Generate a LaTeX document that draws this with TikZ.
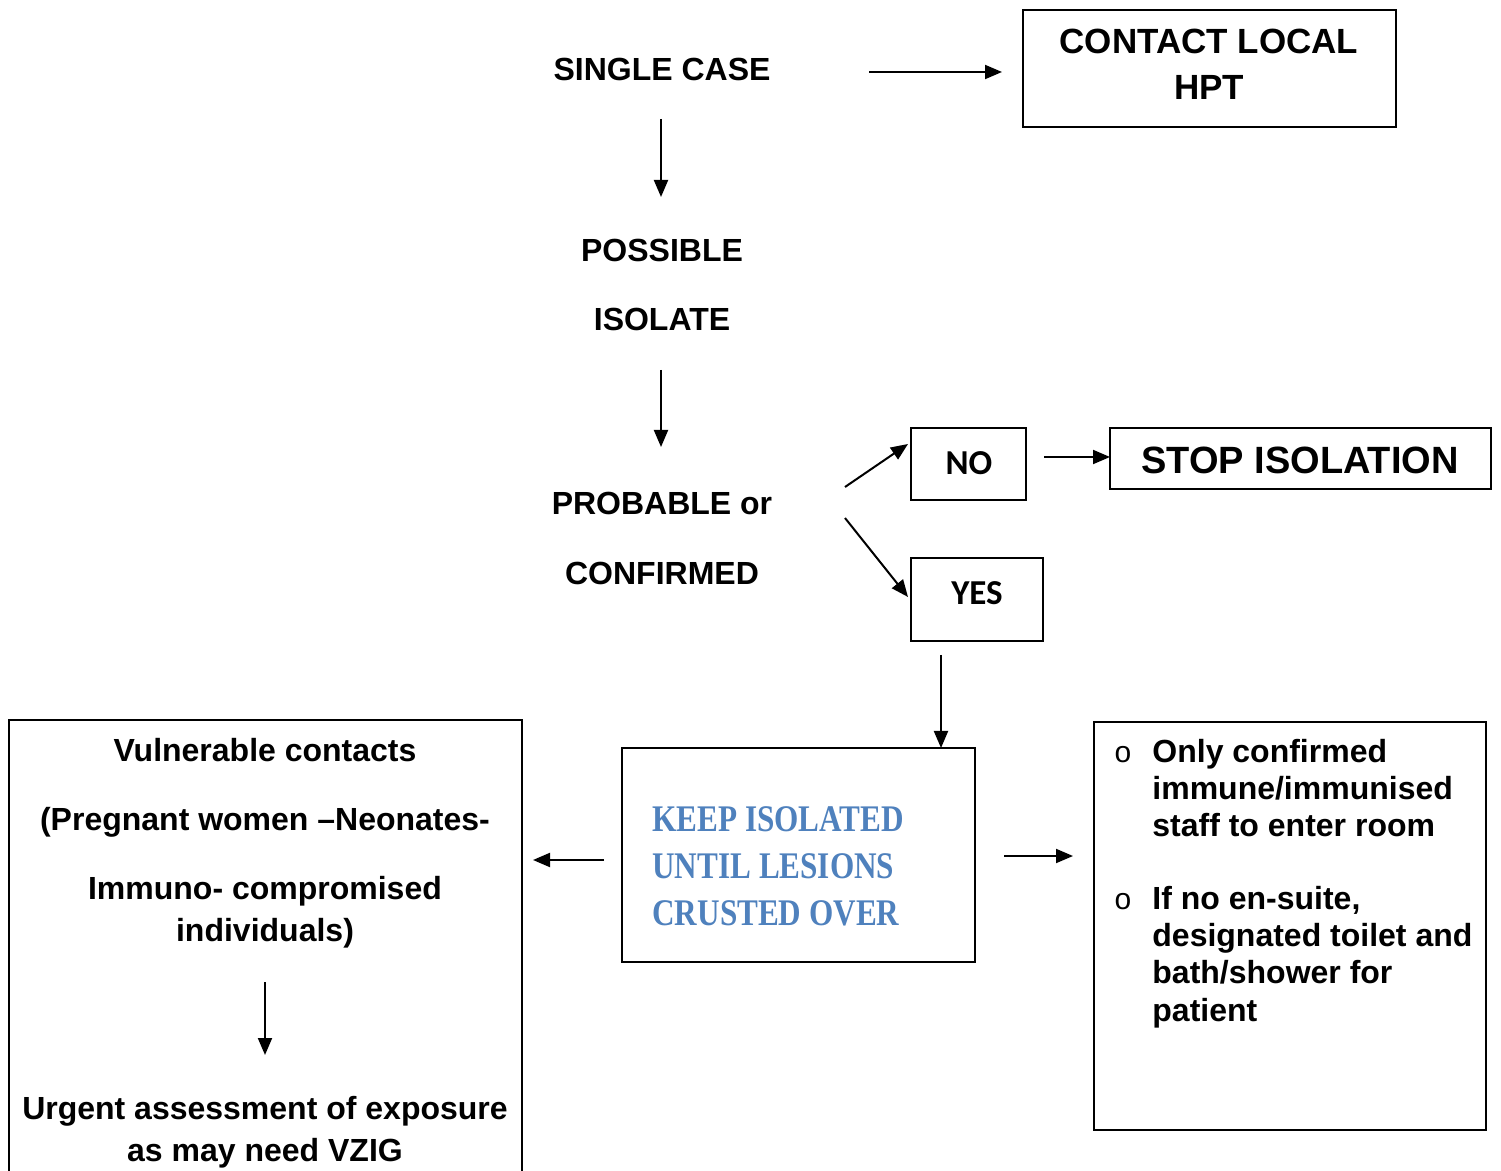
\documentclass[tikz,border=0pt]{standalone}
\usepackage{fontspec}
\setmainfont{Liberation Sans}
\newfontfamily\calib{Carlito}
\newfontfamily\cambr[FakeStretch=0.83]{Liberation Serif}
\usetikzlibrary{arrows.meta}
\definecolor{kblue}{HTML}{4F81BD}
\begin{document}
\begin{tikzpicture}[x=0.5pt,y=-0.5pt,
  lbl/.style={inner sep=0pt, font=\bfseries\fontsize{16}{19}\selectfont, text height=11.5pt, text depth=0pt},
  lblb/.style={inner sep=0pt, font=\bfseries\fontsize{17.5}{20}\selectfont, text height=12.5pt, text depth=0pt},
  lblc/.style={inner sep=0pt, font=\calib\bfseries\fontsize{17.5}{20}\selectfont, text height=11.3pt, text depth=0pt},
  lbls/.style={inner sep=0pt, font=\bfseries\fontsize{19}{21}\selectfont, text height=13.6pt, text depth=0pt},
  keep/.style={inner sep=0pt, font=\cambr\bfseries\fontsize{18.8}{23.5}\selectfont, text=kblue, align=left},
  bul/.style={inner sep=0pt, font=\fontsize{15}{17}\selectfont, text height=7.8pt, text depth=0pt},
  box/.style={draw, line width=1pt, inner sep=0pt},
  arr/.style={line width=1pt, -{Triangle[length=8.5pt,width=7pt]}}]
\useasboundingbox (0,0) rectangle (1501,1171);

% left column
\node[lbl] (sc) at (662,69) {SINGLE CASE};
\node[lbl] (pos) at (662,250) {POSSIBLE};
\node[lbl] (iso) at (662,319) {ISOLATE};
\node[lbl] (prob) at (662,503) {PROBABLE or};
\node[lbl] (conf) at (662,573) {CONFIRMED};

% contact box
\node[box, minimum width=186.5pt, minimum height=58.5pt] (hptbox) at (1209.5,68.5) {};
\node[lblb] (hpt1) at (1209,41) {CONTACT LOCAL};
\node[lblb] (hpt2) at (1209,87) {HPT};

% NO / YES / STOP
\node[box, minimum width=57.5pt, minimum height=36pt] (nobox) at (968.5,464) {};
\node[lblc] (no) at (969,463) {NO};
\node[box, minimum width=190.5pt, minimum height=30.5pt] (stopbox) at (1300.5,458.5) {};
\node[lbls] (stop) at (1300,460) {STOP ISOLATION};
\node[box, minimum width=66pt, minimum height=41.5pt] (yesbox) at (977,599.5) {};
\node[lblc] (yes) at (977,593) {YES};

% keep box
\node[box, minimum width=176.5pt, minimum height=107pt] (keepbox) at (798.5,855) {};
\node[keep, anchor=west] (keep) at (652,866) {KEEP ISOLATED\\UNTIL LESIONS\\CRUSTED OVER};

% left box (bottom edge beyond the page)
\coordinate (lb1) at (9,1180);
\coordinate (lb2) at (9,720);
\coordinate (lb3) at (522,720);
\coordinate (lb4) at (522,1180);
\draw[line width=1pt] (lb1) -- (lb2) -- (lb3) -- (lb4);
\node[lbl] (v1) at (265,750) {Vulnerable contacts};
\node[lbl] (v2) at (265,819) {(Pregnant women –Neonates-};
\node[lbl] (v3) at (265,888) {Immuno- compromised};
\node[lbl] (v4) at (265,930) {individuals)};
\node[lbl] (u1) at (265,1108) {Urgent assessment of exposure};
\node[lbl] (u2) at (265,1150) {as may need VZIG};

% right box
\node[box, minimum width=196pt, minimum height=204pt] (rbox) at (1290,926) {};
\node[bul] (b1) at (1123,755) {o};
\node[bul] (b2) at (1123,902) {o};
\node[lbl, anchor=west] (r1) at (1152,751) {Only confirmed};
\node[lbl, anchor=west] (r2) at (1152,788) {immune/immunised};
\node[lbl, anchor=west] (r3) at (1152,825) {staff to enter room};
\node[lbl, anchor=west] (r4) at (1152,898) {If no en-suite,};
\node[lbl, anchor=west] (r5) at (1152,935) {designated toilet and};
\node[lbl, anchor=west] (r6) at (1152,972) {bath/shower for};
\node[lbl, anchor=west] (r7) at (1152,1010) {patient};

% connector end points
\coordinate (c1s) at (869,72);   \coordinate (c1e) at (1002,72);
\coordinate (c2s) at (661,119);  \coordinate (c2e) at (661,197);
\coordinate (c3s) at (661,370);  \coordinate (c3e) at (661,447);
\coordinate (c4s) at (845,487);  \coordinate (c4e) at (908,444);
\coordinate (c5s) at (845,518);  \coordinate (c5e) at (908,597);
\coordinate (c6s) at (1044,457); \coordinate (c6e) at (1110,457);
\coordinate (c7s) at (941,655);  \coordinate (c7e) at (941,748);
\coordinate (c8s) at (604,860);  \coordinate (c8e) at (533,860);
\coordinate (c9s) at (1004,856); \coordinate (c9e) at (1073,856);
\coordinate (c10s) at (265,982); \coordinate (c10e) at (265,1055);

\draw[arr] (c1s) -- (c1e);
\draw[arr] (c2s) -- (c2e);
\draw[arr] (c3s) -- (c3e);
\draw[arr] (c4s) -- (c4e);
\draw[arr] (c5s) -- (c5e);
\draw[arr] (c6s) -- (c6e);
\draw[arr] (c7s) -- (c7e);
\draw[arr] (c8s) -- (c8e);
\draw[arr] (c9s) -- (c9e);
\draw[arr] (c10s) -- (c10e);
\end{tikzpicture}
\end{document}
